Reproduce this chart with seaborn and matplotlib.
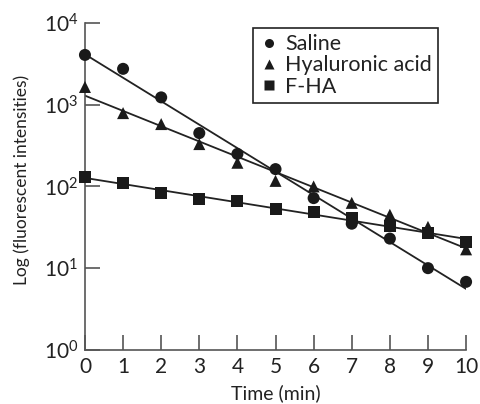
import numpy as np
import pandas as pd
import matplotlib
matplotlib.use("Agg")
import matplotlib.pyplot as plt
import seaborn as sns

time_min = list(range(11))
saline = [4070, 2750, 1230, 450, 250, 163, 72, 35, 23, 10, 6.8]
hyaluronic = [1650, 790, 580, 330, 195, 117, 100, 63, 45, 32, 17]
fha = [131, 110, 83, 70, 66, 53, 49, 41, 33, 27, 21]
groups = ["Saline", "Hyaluronic acid", "F-HA"]

sns.set_style("ticks")
plt.rcParams["font.family"] = ["Lato", "DejaVu Sans"]
plt.rcParams["mathtext.default"] = "regular"

df = pd.DataFrame({
    "Time": time_min * 3,
    "Value": saline + hyaluronic + fha,
    "Group": [g for g in groups for _ in time_min],
})

# straight-line fits in log space
fits = []
for g in groups:
    sub = df[df["Group"] == g]
    k, b = np.polyfit(sub["Time"], np.log10(sub["Value"]), 1)
    fits.append(pd.DataFrame({"Time": [0, 10], "Value": 10 ** (b + k * np.array([0, 10])), "Group": g}))
fit_df = pd.concat(fits)

fig = plt.figure(figsize=(4.8, 4.04), dpi=100)
ax = fig.add_axes([0.177, 0.134, 0.794, 0.809])

sns.lineplot(data=fit_df, x="Time", y="Value", units="Group", estimator=None,
             color="#222222", lw=1.3, legend=False, ax=ax)
sns.scatterplot(data=df, x="Time", y="Value", hue="Group", style="Group",
                markers={"Saline": "o", "Hyaluronic acid": "^", "F-HA": "s"},
                palette={g: "#1a1a1a" for g in groups}, s=75, edgecolor="none",
                ax=ax, zorder=3, clip_on=False)

ax.set_yscale("log")
ax.set_ylim(1, 1e4)
ax.set_xlim(0, 10)
ax.set_xticks(time_min)
ax.set_yticks([1, 10, 100, 1000, 10000])
ax.minorticks_off()
ax.tick_params(axis="both", direction="in", length=11, width=1.2, color="#555555",
               labelsize=15, pad=5, labelcolor="#222222")
sns.despine(ax=ax)
for sp in ["left", "bottom"]:
    ax.spines[sp].set_color("#555555")
    ax.spines[sp].set_linewidth(1.2)

ax.set_xlabel("Time (min)", fontsize=14, color="#222222", labelpad=5)
ax.set_ylabel("Log (fluorescent intensities)", fontsize=12.5, color="#222222")
ax.yaxis.set_label_coords(-0.145, 0.52)

handles, labels = ax.get_legend_handles_labels()
leg = ax.legend(handles, labels, loc="upper left", bbox_to_anchor=(0.44, 0.985),
                borderaxespad=0, fancybox=False, edgecolor="#222222", framealpha=1,
                fontsize=15.5, markerscale=0.75, handletextpad=0.3, handlelength=0.9,
                labelspacing=0.05, borderpad=0.3, labelcolor="#222222")
leg.get_frame().set_linewidth(1.2)

fig.savefig("out.png", dpi=100)
